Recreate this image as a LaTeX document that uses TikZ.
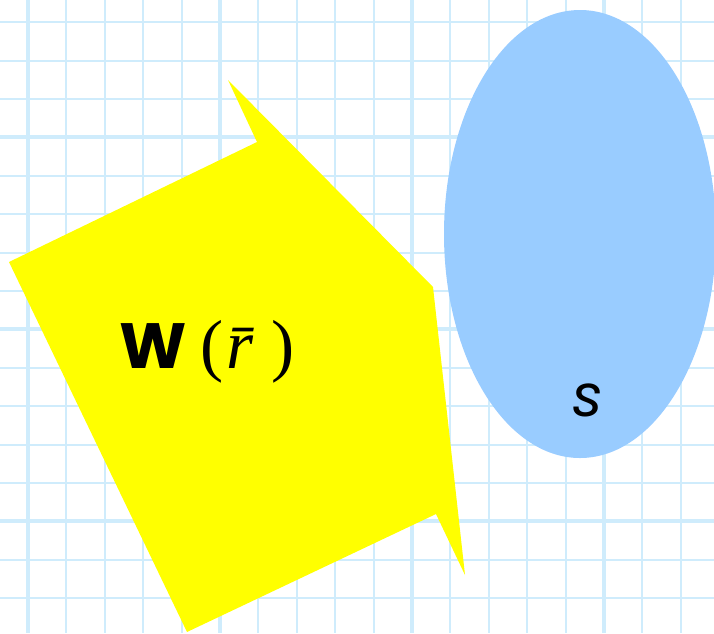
\documentclass[tikz,border=0pt]{standalone}
\usepackage{fontspec}
\setmainfont{Liberation Serif}
\newfontfamily\comicfont{Poppins}
\usetikzlibrary{positioning}

\definecolor{gridblue}{RGB}{207,236,252}
\definecolor{ellblue}{RGB}{153,204,255}
\definecolor{polyyellow}{RGB}{255,255,0}

\begin{document}
\begin{tikzpicture}[x=0.75pt, y=-0.75pt,
    minorline/.style={draw=gridblue, line width=1.5pt},
    majorline/.style={draw=gridblue, line width=3pt},
    label/.style={inner sep=0pt, text=black}
]
%% ============================================================
%% BACKGROUND: squared paper
%% ============================================================
\useasboundingbox (0,0) rectangle (714,633);
\fill[white] (0,0) rectangle (714,633);
\begin{scope}
\clip (0,0) rectangle (714,633);
\foreach \i in {-1,...,18}
  \draw[minorline] ({28+38.4*\i},0) -- ({28+38.4*\i},633);
\foreach \j in {-4,...,13}
  \draw[minorline] (0,{137.3+38.4*\j}) -- (714,{137.3+38.4*\j});
\foreach \i in {0,...,3}
  \draw[majorline] ({28+192*\i},0) -- ({28+192*\i},633);
\foreach \j in {0,...,2}
  \draw[majorline] (0,{137.3+192*\j}) -- (714,{137.3+192*\j});
\end{scope}
%% ============================================================
%% YELLOW REGION W(r)
%% ============================================================
\fill[polyyellow] (228,80) -- (433,287) -- (465,575) -- (436,514)
  -- (187,632) -- (9,262) -- (257,142) -- cycle;
\node[label] (W) at (207,352)
  {{\comicfont\bfseries\fontsize{48}{48}\selectfont W}\kern10pt%
   \fontsize{52}{52}\selectfont(\kern2pt\textit{\={r}}\kern1pt)};
%% ============================================================
%% BLUE REGION s
%% ============================================================
\fill[ellblue] (580,234) ellipse [x radius=136, y radius=224];
\node[label] (s) at (588,400)
  {\comicfont\fontsize{44}{44}\selectfont\itshape s};
\end{tikzpicture}
\end{document}
